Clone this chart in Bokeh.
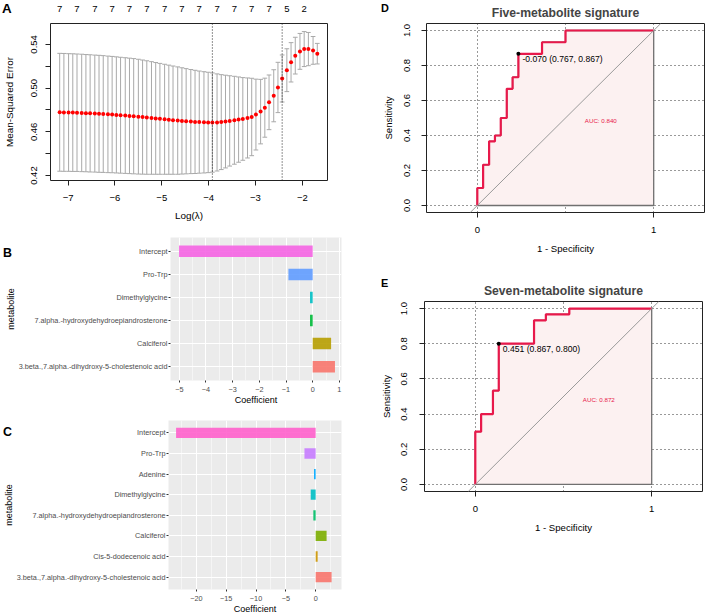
from bokeh.plotting import figure
from bokeh.layouts import row, column
from bokeh.models import (Range1d, FactorRange, FixedTicker, SingleIntervalTicker,
                          CustomJSTickFormatter, LinearAxis, Span, Slope, Div,
                          ColumnDataSource, NumeralTickFormatter)
from bokeh.core.properties import value
from bokeh.embed import file_html
from bokeh.resources import INLINE

# ------------------------------------------------------------------ data
# Panel A: cross-validation curve (glmnet)
log_lambda = [-7.18, -7.09, -6.99, -6.90, -6.81, -6.71, -6.62, -6.53, -6.43, -6.34,
              -6.25, -6.15, -6.06, -5.97, -5.88, -5.78, -5.69, -5.60, -5.50, -5.41,
              -5.32, -5.22, -5.13, -5.04, -4.94, -4.85, -4.76, -4.66, -4.57, -4.48,
              -4.38, -4.29, -4.20, -4.10, -4.01, -3.92, -3.82, -3.73, -3.64, -3.55,
              -3.45, -3.36, -3.27, -3.17, -3.08, -2.99, -2.89, -2.80, -2.71, -2.61,
              -2.52, -2.43, -2.33, -2.24, -2.15, -2.05, -1.96, -1.87, -1.77, -1.68]
cv_mse = [0.4779, 0.4778, 0.4777, 0.4776, 0.4775, 0.4773, 0.4771, 0.4769, 0.4767, 0.4765,
          0.4763, 0.4760, 0.4758, 0.4755, 0.4752, 0.4749, 0.4746, 0.4743, 0.4739, 0.4735,
          0.4731, 0.4727, 0.4723, 0.4719, 0.4715, 0.4711, 0.4707, 0.4703, 0.4700, 0.4697,
          0.4694, 0.4691, 0.4689, 0.4687, 0.4686, 0.4685, 0.4686, 0.4689, 0.4694, 0.4700,
          0.4706, 0.4712, 0.4718, 0.4727, 0.4736, 0.4758, 0.4785, 0.4821, 0.4870, 0.4930,
          0.5006, 0.5088, 0.5164, 0.5236, 0.5297, 0.5336, 0.5357, 0.5357, 0.5345, 0.5315]
cv_se = [0.0539, 0.0539, 0.0538, 0.0538, 0.0537, 0.0537, 0.0536, 0.0536, 0.0535, 0.0535,
         0.0534, 0.0533, 0.0532, 0.0531, 0.0530, 0.0529, 0.0528, 0.0527, 0.0525, 0.0522,
         0.0519, 0.0515, 0.0511, 0.0507, 0.0503, 0.0499, 0.0495, 0.0491, 0.0486, 0.0481,
         0.0476, 0.0472, 0.0467, 0.0463, 0.0459, 0.0454, 0.0444, 0.0434, 0.0424, 0.0413,
         0.0402, 0.0390, 0.0378, 0.0366, 0.0354, 0.0324, 0.0295, 0.0270, 0.0250, 0.0238,
         0.0230, 0.0215, 0.0196, 0.0180, 0.0168, 0.0164, 0.0160, 0.0152, 0.0127, 0.0094]
nzero_idx = [0, 4, 8, 12, 16, 20, 24, 28, 32, 36, 40, 44, 48, 52, 56]
nzero_labels = ["7", "7", "7", "7", "7", "7", "7", "7", "7", "7", "7", "7", "7", "5", "2"]
log_lambda_min = -3.92
log_lambda_1se = -2.43
a_xticks = [-7, -6, -5, -4, -3, -2]
a_yticks = [0.42, 0.44, 0.46, 0.48, 0.50, 0.52, 0.54]
a_ylabels = ["0.42", "", "0.46", "", "0.50", "", "0.54"]

# Panel B: coefficients, five-metabolite model (top to bottom)
b_metab = ["Intercept", "Pro-Trp", "Dimethylglycine",
           "7.alpha.-hydroxydehydroepiandrosterone", "Calciferol",
           "3.beta.,7.alpha.-dihydroxy-5-cholestenoic acid"]
b_coef = [-5.01, -0.91, -0.10, -0.10, 0.69, 0.835]

# Panel C: coefficients, seven-metabolite model (top to bottom)
c_metab = ["Intercept", "Pro-Trp", "Adenine", "Dimethylglycine",
           "7.alpha.-hydroxydehydroepiandrosterone", "Calciferol",
           "Cis-5-dodecenoic acid",
           "3.beta.,7.alpha.-dihydroxy-5-cholestenoic acid"]
c_coef = [-23.4, -1.88, -0.28, -0.83, -0.39, 1.83, 0.33, 2.67]

# Panel D: ROC, five-metabolite signature
d_fpr = [0, 0, 0.033, 0.033, 0.067, 0.067, 0.100, 0.100, 0.133, 0.133, 0.167,
         0.167, 0.200, 0.200, 0.233, 0.233, 0.367, 0.367, 0.500, 0.500, 1.0]
d_tpr = [0, 0.100, 0.100, 0.233, 0.233, 0.367, 0.367, 0.400, 0.400, 0.500, 0.500,
         0.667, 0.667, 0.733, 0.733, 0.867, 0.867, 0.933, 0.933, 1.0, 1.0]
d_thr, d_spec, d_sens, d_auc = -0.070, 0.767, 0.867, 0.840

# Panel E: ROC, seven-metabolite signature
e_fpr = [0, 0, 0.033, 0.033, 0.100, 0.100, 0.133, 0.133, 0.333, 0.333, 0.400,
         0.400, 0.533, 0.533, 1.0]
e_tpr = [0, 0.300, 0.300, 0.400, 0.400, 0.533, 0.533, 0.800, 0.800, 0.933, 0.933,
         0.967, 0.967, 1.0, 1.0]
e_thr, e_spec, e_sens, e_auc = 0.451, 0.867, 0.800, 0.872

roc_xticks = [0, 1]
roc_yticks = [0.0, 0.2, 0.4, 0.6, 0.8, 1.0]
roc_grid_x = [0, 0.5, 1]

panel_letters = ["A", "B", "C", "D", "E"]

# ------------------------------------------------------------------ style
S = 0.995
FONT = "Liberation Sans"
HUE6 = ["#F564E3", "#619CFF", "#00BFC4", "#00BA38", "#B79F00", "#F8766D"]
HUE8 = ["#FF61CC", "#C77CFF", "#00A9FF", "#00BFC4", "#00BE67", "#7CAE00",
        "#CD9600", "#F8766D"]
ROC_RED = "#E8194B"


def s(v):
    return int(round(v * S))


def fs(v):
    return f"{v * S:.1f}px"


def base_fig(fw, fh, left, right, top, bottom, **kw):
    p = figure(frame_width=s(fw), frame_height=s(fh),
               min_border_left=s(left), min_border_right=s(right),
               min_border_top=s(top), min_border_bottom=s(bottom),
               output_backend="svg", toolbar_location=None, tools="", **kw)
    p.frame_align = False
    p.border_fill_color = "white"
    p.background_fill_color = "white"
    return p


def r_axis(ax, tick_size=9.5, label_size=10):
    ax.axis_line_color = None
    ax.major_tick_line_color = "#222222"
    ax.major_tick_out = s(5)
    ax.major_tick_in = 0
    ax.minor_tick_line_color = None
    ax.major_label_text_font = FONT
    ax.major_label_text_font_size = fs(tick_size)
    ax.major_label_text_color = "black"
    ax.axis_label_text_font = FONT
    ax.axis_label_text_font_size = fs(label_size)
    ax.axis_label_text_font_style = "normal"
    ax.axis_label_text_color = "black"


# ------------------------------------------------------------------ panel A
pa = base_fig(278, 158, 49, 33, 23, 43,
              x_range=Range1d(-7.376, -1.462), y_range=Range1d(0.4155, 0.5591))
pa.grid.visible = False
pa.outline_line_color = "#222222"

src = ColumnDataSource(dict(
    x=log_lambda, mse=cv_mse,
    lo=[m - e for m, e in zip(cv_mse, cv_se)],
    hi=[m + e for m, e in zip(cv_mse, cv_se)],
    xl=[x - 0.05 for x in log_lambda],
    xr=[x + 0.05 for x in log_lambda]))
bar_col = "#A9A9A9"
pa.segment(x0="x", y0="lo", x1="x", y1="hi", source=src, line_color=bar_col, line_width=1)
pa.segment(x0="xl", y0="hi", x1="xr", y1="hi", source=src, line_color=bar_col, line_width=1)
pa.segment(x0="xl", y0="lo", x1="xr", y1="lo", source=src, line_color=bar_col, line_width=1)
pa.scatter(x="x", y="mse", source=src, size=s(4.3), fill_color="#FF0000", line_color=None)
for loc in (log_lambda_min, log_lambda_1se):
    pa.add_layout(Span(location=loc, dimension="height", line_color="#222222",
                       line_dash="1 2", line_width=1))

pa.xaxis.ticker = FixedTicker(ticks=a_xticks)
pa.xaxis.axis_label = "Log(λ)"
r_axis(pa.xaxis[0])
pa.xaxis.major_label_standoff = s(9)
pa.xaxis.axis_label_standoff = s(6)

pa.yaxis.ticker = FixedTicker(ticks=a_yticks)
pa.yaxis.formatter = CustomJSTickFormatter(args=dict(labels=a_ylabels),
                                           code="return labels[index];")
pa.yaxis.axis_label = "Mean-Squared Error"
r_axis(pa.yaxis[0])
pa.yaxis.major_label_orientation = "vertical"
pa.yaxis.major_label_standoff = s(8)
pa.yaxis.axis_label_standoff = s(14)

top_ax = LinearAxis(ticker=FixedTicker(ticks=[log_lambda[i] for i in nzero_idx]),
                    formatter=CustomJSTickFormatter(args=dict(labels=nzero_labels),
                                                    code="return labels[index];"))
r_axis(top_ax)
top_ax.major_tick_line_color = None
top_ax.major_tick_out = 0
top_ax.major_label_standoff = s(12)
pa.add_layout(top_ax, "above")


# ------------------------------------------------------------------ panels B, C
def coef_panel(metab, coef, colors, xr, fw, fh, left, right, top, bottom, tick_interval):
    p = base_fig(fw, fh, left, right, top, bottom,
                 x_range=Range1d(*xr),
                 y_range=FactorRange(factors=metab[::-1], range_padding=0.1,
                                     range_padding_units="absolute"))
    p.background_fill_color = "#EBEBEB"
    p.outline_line_color = None
    p.hbar(y=metab, left=0, right=coef, height=0.5, fill_color=colors,
           fill_alpha=0.9, line_color=None)
    p.xaxis.ticker = SingleIntervalTicker(interval=tick_interval, num_minor_ticks=2)
    p.xgrid.grid_line_color = "white"
    p.xgrid.grid_line_width = 1.1
    p.xgrid.minor_grid_line_color = "white"
    p.xgrid.minor_grid_line_width = 0.5
    p.ygrid.grid_line_color = "white"
    p.ygrid.grid_line_width = 1.1
    for ax in (p.xaxis[0], p.yaxis[0]):
        ax.axis_line_color = None
        ax.major_tick_line_color = "#333333"
        ax.major_tick_out = s(2.5)
        ax.major_tick_in = 0
        ax.minor_tick_line_color = None
        ax.major_label_text_font = FONT
        ax.major_label_text_font_size = fs(7.3)
        ax.major_label_text_color = "#4D4D4D"
        ax.axis_label_text_font = FONT
        ax.axis_label_text_font_size = fs(9)
        ax.axis_label_text_font_style = "normal"
        ax.axis_label_text_color = "black"
    p.xaxis.axis_label = "Coefficient"
    p.xaxis.major_label_standoff = 2
    p.xaxis.axis_label_standoff = 0
    p.yaxis.axis_label = "metabolite"
    p.yaxis.major_label_standoff = 1
    p.yaxis.axis_label_standoff = 0
    return p


pb = coef_panel(b_metab, b_coef, HUE6, (-5.33, 1.08), 172, 144, 171, 10, 14, 25, 1)
pc = coef_panel(c_metab, c_coef, HUE8, (-24.67, 4.33), 174, 170, 169, 10, 13, 25, 5)


# ------------------------------------------------------------------ panels D, E
def roc_panel(title, fpr, tpr, thr, spec, sens, auc, fw, fh, left, right, top, bottom):
    p = base_fig(fw, fh, left, right, top, bottom,
                 x_range=Range1d(-0.288, 1.288), y_range=Range1d(-0.04, 1.04),
                 title=title)
    p.title.align = "center"
    p.title.text_font = FONT
    p.title.text_font_size = fs(12.3)
    p.title.text_font_style = "bold"
    p.title.standoff = s(7)
    p.outline_line_color = "#222222"
    p.xaxis.ticker = FixedTicker(ticks=roc_xticks)
    p.yaxis.ticker = FixedTicker(ticks=roc_yticks)
    p.yaxis.formatter = NumeralTickFormatter(format="0.0")
    p.xgrid.ticker = FixedTicker(ticks=roc_grid_x)
    for g in (p.xgrid[0], p.ygrid[0]):
        g.grid_line_color = "#333333"
        g.grid_line_dash = "1 3"
        g.grid_line_width = 1
    # AUC polygon
    p.patch(x=fpr + [1.0], y=tpr + [0.0], fill_color="#FCF1F1",
            line_color="#707070", line_width=1.3)
    p.add_layout(Slope(gradient=1, y_intercept=0, line_color="#9A9A9A", line_width=1))
    p.line(x=fpr, y=tpr, line_color=ROC_RED, line_width=2.2)
    bx, by = round(1 - spec, 3), sens
    p.scatter(x=[bx], y=[by], size=s(4), fill_color="black", line_color=None)
    p.text(x=[bx], y=[by], text=[f"{thr:.3f} ({spec:.3f}, {sens:.3f})"],
           text_font=value(FONT), text_font_size=fs(8.6), text_color="black",
           text_align="left", text_baseline="middle", x_offset=s(4), y_offset=s(5))
    p.text(x=[0.70], y=[0.485], text=[f"AUC: {auc:.3f}"], text_font=value(FONT),
           text_font_size=fs(6.2), text_color=ROC_RED, text_align="center",
           text_baseline="middle")
    r_axis(p.xaxis[0], 9.5, 9.6)
    r_axis(p.yaxis[0], 9.5, 9.6)
    p.xaxis.axis_label = "1 - Specificity"
    p.xaxis.major_label_standoff = s(9)
    p.xaxis.axis_label_standoff = s(7)
    p.yaxis.axis_label = "Sensitivity"
    p.yaxis.major_label_orientation = "vertical"
    p.yaxis.major_label_standoff = s(12)
    p.yaxis.axis_label_standoff = s(7)
    return p


pd_ = roc_panel("Five-metabolite signature", d_fpr, d_tpr, d_thr, d_spec, d_sens, d_auc,
                279, 190, 66, 1, 23, 57)
pe = roc_panel("Seven-metabolite signature", e_fpr, e_tpr, e_thr, e_spec, e_sens, e_auc,
               279, 191, 64, 3, 32, 110)

# ------------------------------------------------------------------ panel letters
# (left, top, font size) of each letter on the page
letter_pos = [(2, 1.5, 13.5), (3, 248, 12.5), (3, 428, 12.5), (383, 2, 11), (383, 278, 11)]
spans = "".join(
    f'<span style="position:absolute;left:{x * S:.1f}px;top:{t * S:.1f}px;'
    f"font-family:'{FONT}';font-weight:bold;font-size:{sz * S:.1f}px;"
    f'line-height:1.1;color:black;white-space:nowrap">{txt}</span>'
    for txt, (x, t, sz) in zip(panel_letters, letter_pos))
letters = Div(text=spans, width=0, height=0, margin=0,
              styles={"position": "relative", "overflow": "visible", "z-index": "10"})

layout = column(letters, row(column(pa, pb, pc), column(pd_, pe)))
open("out.html", "w").write(file_html(layout, INLINE))
